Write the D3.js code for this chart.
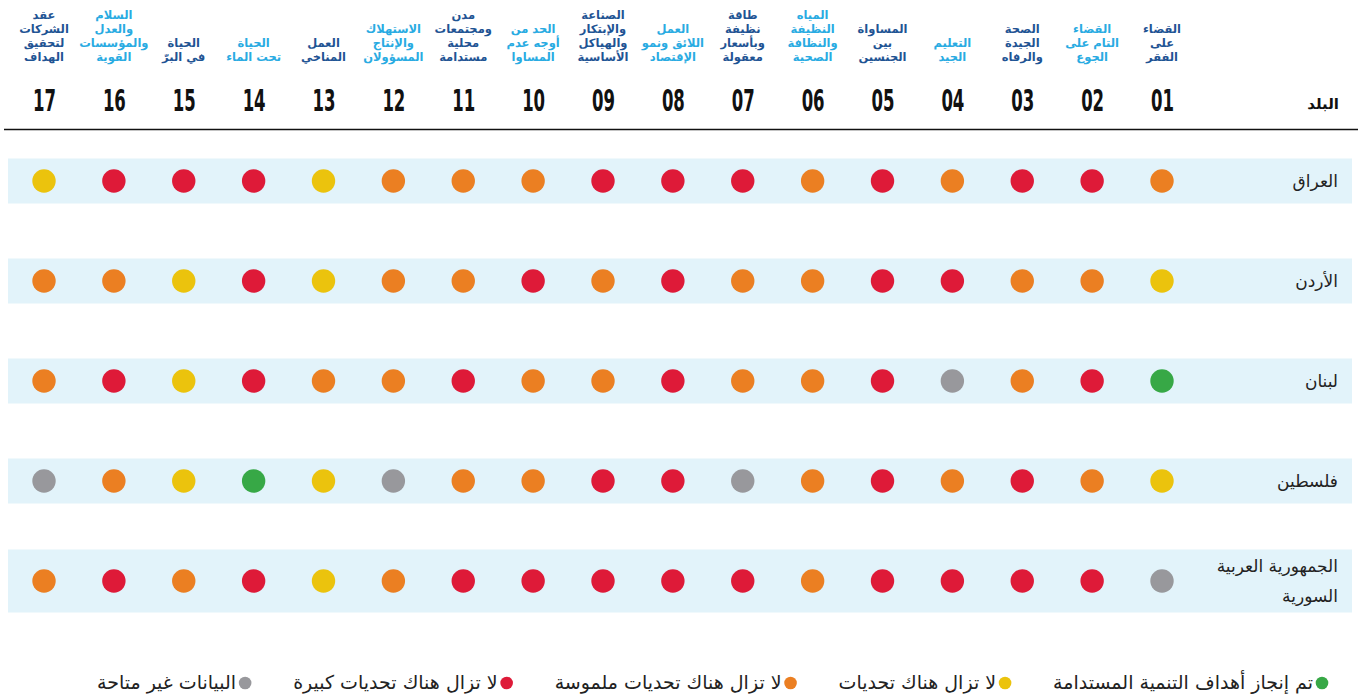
<!DOCTYPE html>
<html lang="ar">
<head>
<meta charset="utf-8">
<script src="https://cdn.jsdelivr.net/npm/d3@7"></script>
<style>
  html, body { margin: 0; padding: 0; background: #ffffff; }
  svg { display: block; }
  text { font-family: "DejaVu Sans", "Noto Sans", sans-serif; }
</style>
</head>
<body>
<svg id="chart" width="1360" height="697"></svg>
<script>
// ---------- DATA ----------
const goalNumbers = ["01","02","03","04","05","06","07","08","09","10","11","12","13","14","15","16","17"];
const goalTitles = [
  ["القضاء","على","الفقر"],
  ["القضاء","التام على","الجوع"],
  ["الصحة","الجيدة","والرفاه"],
  ["التعليم","الجيد"],
  ["المساواة","بين","الجنسين"],
  ["المياه","النظيفة","والنظافة","الصحية"],
  ["طاقة","نظيفة","وبأسعار","معقولة"],
  ["العمل","اللائق ونمو","الإقتصاد"],
  ["الصناعة","والإبتكار","والهياكل","الأساسية"],
  ["الحد من","أوجه عدم","المساوا"],
  ["مدن","ومجتمعات","محلية","مستدامة"],
  ["الاستهلاك","والإنتاج","المسؤولان"],
  ["العمل","المناخي"],
  ["الحياة","تحت الماء"],
  ["الحياة","في البرّ"],
  ["السلام","والعدل","والمؤسسات","القوية"],
  ["عقد","الشركات","لتحقيق","الهداف"]
];
const countryHeader = "البلد";
const countries = [
  ["العراق"],
  ["الأردن"],
  ["لبنان"],
  ["فلسطين"],
  ["الجمهورية العربية","السورية"]
];
// status codes: A = achieved (green), C = challenges remain (yellow),
// S = significant challenges (orange), M = major challenges (red), N = no data (grey)
const iraqStatus      = ["S","M","M","S","M","S","M","M","M","S","S","S","C","M","M","M","C"];
const jordanStatus    = ["C","S","S","M","M","S","S","M","S","M","S","S","C","M","C","S","S"];
const lebanonStatus   = ["A","M","S","N","M","S","S","M","S","S","M","S","S","M","C","M","S"];
const palestineStatus = ["C","S","M","S","M","S","N","M","M","S","S","N","C","A","C","S","N"];
const syriaStatus     = ["N","M","M","M","M","S","M","M","M","M","M","S","C","M","S","M","S"];
const statusRows = [iraqStatus, jordanStatus, lebanonStatus, palestineStatus, syriaStatus];

const statusKeys   = ["A","C","S","M","N"];
const statusColors = ["#37a846","#ebc30d","#eb7f22","#de1a38","#98989c"];
const legendLabels = [
  "تم إنجاز أهداف التنمية المستدامة",
  "لا تزال هناك تحديات",
  "لا تزال هناك تحديات ملموسة",
  "لا تزال هناك تحديات كبيرة",
  "البيانات غير متاحة"
];
const titleColors = ["#1f5494","#29abe2"];

// ---------- CHART ----------
const svg = d3.select("#chart");
const color = d3.scaleOrdinal().domain(statusKeys).range(statusColors);

const x = d3.scalePoint().domain(goalNumbers).range([1162, 44]);
const y = d3.scalePoint().domain(countries.map(c => c.join(" "))).range([181, 581]);

// row bands
const bandH = d => 45 + (d.length - 1) * 18;
svg.append("g").selectAll("rect")
  .data(countries)
  .join("rect")
  .attr("x", 8)
  .attr("width", 1344)
  .attr("y", d => y(d.join(" ")) - bandH(d) / 2)
  .attr("height", d => bandH(d))
  .attr("fill", "#e2f3fa");

// goal titles
const titles = svg.append("g").selectAll("text")
  .data(goalNumbers)
  .join("text")
  .attr("text-anchor", "middle")
  .attr("font-size", 11.5)
  .attr("font-weight", "bold")
  .attr("fill", (d, i) => titleColors[i % 2]);
titles.each(function(d, i) {
  const lines = goalTitles[i];
  const t = d3.select(this);
  lines.forEach((ln, j) => {
    t.append("tspan")
      .attr("x", x(d))
      .attr("y", 61 - (lines.length - 1 - j) * 14)
      .text(ln);
  });
});

// goal numbers via axis
const axis = d3.axisTop(x).tickSize(0).tickPadding(0);
const ax = svg.append("g").attr("transform", "translate(0,111)").call(axis);
ax.select(".domain").remove();
ax.selectAll("text")
  .attr("font-family", "'DejaVu Sans Condensed', 'DejaVu Sans', sans-serif")
  .attr("font-size", 30)
  .attr("font-weight", "bold")
  .attr("fill", "#111")
  .attr("textLength", 23)
  .attr("lengthAdjust", "spacingAndGlyphs");

// header "country"
svg.append("text")
  .attr("x", 1339).attr("y", 109)
  .attr("text-anchor", "end")
  .attr("font-size", 15)
  .attr("font-weight", "bold")
  .attr("fill", "#111")
  .text(countryHeader);

// header rule
svg.append("line")
  .attr("x1", 4).attr("x2", 1358)
  .attr("y1", 129.5).attr("y2", 129.5)
  .attr("stroke", "#111").attr("stroke-width", 1.6);

// country labels
const labels = svg.append("g").selectAll("text")
  .data(countries)
  .join("text")
  .attr("text-anchor", "end")
  .attr("font-size", 17)
  .attr("fill", "#222");
labels.each(function(d) {
  const cy = y(d.join(" "));
  const t = d3.select(this);
  d.forEach((ln, j) => {
    t.append("tspan")
      .attr("x", 1338)
      .attr("y", cy + 6 + (j - (d.length - 1) / 2) * 30)
      .text(ln);
  });
});

// dots
const cells = [];
statusRows.forEach((row, r) => row.forEach((s, g) => cells.push({country: countries[r].join(" "), goal: goalNumbers[g], s})));
svg.append("g").selectAll("circle")
  .data(cells)
  .join("circle")
  .attr("cx", d => x(d.goal))
  .attr("cy", d => y(d.country))
  .attr("r", 11.7)
  .attr("fill", d => color(d.s));

// legend (right to left)
const legend = svg.append("g");
let cursor = 1322;
statusKeys.forEach((k, i) => {
  legend.append("circle")
    .attr("cx", cursor).attr("cy", 683).attr("r", 6.3)
    .attr("fill", color(k));
  const t = legend.append("text")
    .attr("x", cursor - 9).attr("y", 689)
    .attr("text-anchor", "end")
    .attr("font-size", 19)
    .attr("fill", "#222")
    .text(legendLabels[i]);
  const w = t.node().getComputedTextLength();
  cursor = cursor - 9 - w - 48;
});
</script>
</body>
</html>
